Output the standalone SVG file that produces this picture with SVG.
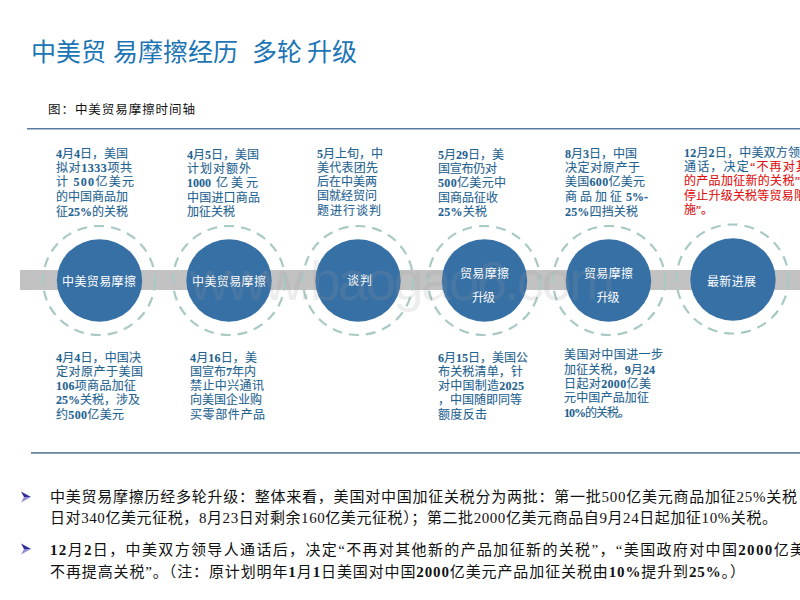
<svg xmlns="http://www.w3.org/2000/svg" width="800" height="600" viewBox="0 0 800 600">
<style>
text{font-family:"Liberation Serif","Noto Sans CJK SC",serif}
.s{font-family:"Noto Sans CJK SC",sans-serif}
.t text{font-size:12px;fill:#1f6391;stroke:#1f6391;stroke-width:.1}
.t text .r,.t text.r{fill:#e01010;stroke:#e01010}
.c{font-size:12px;fill:#fff;text-anchor:middle;font-family:"Noto Sans CJK SC",sans-serif}
.b{font-size:15px;fill:#111}
.n{font-weight:bold}
.ring{fill:none;stroke:#a9c9c5;stroke-width:2.200;stroke-dasharray:10 7}
.disc{fill:#3670a5}
.wm{font-family:"Liberation Sans",sans-serif;font-size:55px;fill:#999;fill-opacity:.18}
.up{fill:#2b2b9b}
.lo{fill:#8f8fd0}
</style>
<rect width="800" height="600" fill="#fff"/>
<text class="s" y="61" font-size="25" fill="#1c75b5"><tspan x="31">中美贸</tspan><tspan x="113">易摩擦经历</tspan><tspan x="252">多轮</tspan><tspan x="307">升级</tspan></text>
<text class="s" x="48" y="114" font-size="12.500" fill="#111" textLength="147">图：中美贸易摩擦时间轴</text>
<rect x="27" y="128" width="773" height="1.500" fill="#5d7d9f"/>
<rect x="31" y="452" width="769" height="1.800" fill="#6c86a3"/>
<g id="connectors"><rect x="20" y="270" width="780" height="20" fill="#c2c2c2"/></g>
<g id="node1"><ellipse class="ring" cx="99" cy="280.500" rx="56" ry="54.500"/><ellipse class="disc" cx="99.500" cy="280.500" rx="42.700" ry="41.200"/><text class="c" x="99" y="285.500" textLength="74">中美贸易摩擦</text>
<g class="t"><text x="56" y="158" textLength="72"><tspan class="n">4</tspan>月<tspan class="n">4</tspan>日，美国</text><text x="56" y="172" textLength="76">拟对<tspan class="n">1333</tspan>项共</text><text x="56" y="186" textLength="78">计 <tspan class="n">500</tspan>亿美元</text><text x="56" y="201" textLength="72">的中国商品加</text><text x="56" y="215.500" textLength="72">征<tspan class="n">25%</tspan>的关税</text></g></g>
<g id="node2"><ellipse class="ring" cx="229" cy="280.500" rx="56" ry="54.500"/><ellipse class="disc" cx="229" cy="280.500" rx="42.700" ry="41.200"/><text class="c" x="229" y="285.500" textLength="74">中美贸易摩擦</text>
<g class="t"><text x="187" y="159" textLength="72"><tspan class="n">4</tspan>月<tspan class="n">5</tspan>日，美国</text><text x="187" y="173" textLength="64">计划对额外</text><text x="187" y="187"><tspan class="n">1000</tspan><tspan x="216">亿</tspan><tspan x="231">美</tspan><tspan x="246">元</tspan></text><text x="187" y="202" textLength="73">中国进口商品</text><text x="187" y="215.500" textLength="48">加征关税</text></g></g>
<g id="node3"><ellipse class="ring" cx="358" cy="280.500" rx="55" ry="54.500"/><ellipse class="disc" cx="358" cy="280.500" rx="42.700" ry="41.200"/><text class="c" x="359.500" y="284.500" textLength="25">谈判</text>
<g class="t"><text x="317" y="158" textLength="66"><tspan class="n">5</tspan>月上旬，中</text><text x="317" y="172" textLength="61">美代表团先</text><text x="317" y="186" textLength="60">后在中美两</text><text x="317" y="200" textLength="60">国就经贸问</text><text x="317" y="214.500" textLength="64">题进行谈判</text></g></g>
<g id="node4"><ellipse class="ring" cx="484" cy="280.500" rx="56" ry="54.500"/><ellipse class="disc" cx="484.500" cy="280.500" rx="42.700" ry="41.200"/><text class="c" x="484.500" y="277.500" textLength="49">贸易摩擦</text><text class="c" x="483.500" y="301.500" textLength="23">升级</text>
<g class="t"><text x="438" y="159" textLength="66"><tspan class="n">5</tspan>月<tspan class="n">29</tspan>日，美</text><text x="438" y="173" textLength="59">国宣布仍对</text><text x="438" y="187" textLength="68"><tspan class="n">500</tspan>亿美元中</text><text x="438" y="202" textLength="60">国商品征收</text><text x="438" y="216" textLength="49"><tspan class="n">25%</tspan>关税</text></g></g>
<g id="node5"><ellipse class="ring" cx="609" cy="280.500" rx="56" ry="54.500"/><ellipse class="disc" cx="608.500" cy="280.500" rx="42.700" ry="41.200"/><text class="c" x="608.500" y="277.500" textLength="49">贸易摩擦</text><text class="c" x="608" y="301.500" textLength="23">升级</text>
<g class="t"><text x="565" y="158" textLength="72"><tspan class="n">8</tspan>月<tspan class="n">3</tspan>日，中国</text><text x="565" y="172" textLength="75">决定对原产于</text><text x="565" y="186" textLength="80">美国<tspan class="n">600</tspan>亿美元</text><text x="565" y="201">商<tspan x="580">品</tspan><tspan x="595">加</tspan><tspan x="610">征</tspan><tspan class="n" x="626">5%-</tspan></text><text x="565" y="215.500" textLength="73"><tspan class="n">25%</tspan>四挡关税</text></g></g>
<g id="node6"><ellipse class="ring" cx="732.500" cy="279" rx="56" ry="54.500"/><ellipse class="disc" cx="733" cy="279.500" rx="42.700" ry="41.200"/><text class="c" x="731.500" y="285.500" textLength="49">最新进展</text>
<g class="t"><text x="684" y="157" textLength="116"><tspan class="n">12</tspan>月<tspan class="n">2</tspan>日，中美双方领</text><text x="684" y="171" textLength="124">通话，决定<tspan class="r">“不再对其</tspan></text><text class="r" x="684" y="185" textLength="116">的产品加征新的关税”</text><text class="r" x="684" y="200" textLength="122">停止升级关税等贸易限</text><text class="r" x="684" y="214" textLength="29">施”。</text></g></g>
<g class="t" id="below1"><text x="56" y="362" textLength="85"><tspan class="n">4</tspan>月<tspan class="n">4</tspan>日，中国决</text><text x="56" y="375.500" textLength="87">定对原产于美国</text><text x="56" y="390" textLength="80"><tspan class="n">106</tspan>项商品加征</text><text x="56" y="404" textLength="84"><tspan class="n">25%</tspan>关税，涉及</text><text x="56" y="418.500" textLength="68">约<tspan class="n">500</tspan>亿美元</text></g>
<g class="t" id="below2"><text x="190" y="362" textLength="67"><tspan class="n">4</tspan>月<tspan class="n">16</tspan>日，美</text><text x="190" y="375.500" textLength="66">国宣布<tspan class="n">7</tspan>年内</text><text x="190" y="390" textLength="74">禁止中兴通讯</text><text x="190" y="404" textLength="72">向美国企业购</text><text x="190" y="418.500" textLength="75">买零部件产品</text></g>
<g class="t" id="below4"><text x="438" y="362" textLength="90"><tspan class="n">6</tspan>月<tspan class="n">15</tspan>日，美国公</text><text x="438" y="375.500" textLength="85">布关税清单，针</text><text x="438" y="390" textLength="86">对中国制造<tspan class="n">2025</tspan></text><text x="438" y="404" textLength="84">，中国随即同等</text><text x="438" y="418.500" textLength="49">额度反击</text></g>
<g class="t" id="below5"><text x="564" y="359" textLength="99">美国对中国进一步</text><text x="564" y="373.500" textLength="91">加征关税，<tspan class="n">9</tspan>月<tspan class="n">24</tspan></text><text x="564" y="388" textLength="87">日起对<tspan class="n">2000</tspan>亿美</text><text x="564" y="402" textLength="85">元中国产品加征</text><text x="564" y="417" textLength="66"><tspan class="n">10%</tspan>的关税。</text></g>
<text class="wm" x="190" y="300" textLength="425">www.baogao6.com</text>
<g id="bullets"><polygon class="up" points="21,491.500 31,497 24,497"/><polygon class="lo" points="21,502.500 31,497 24,497"/><polygon class="up" points="21,543.500 31,549 24,549"/><polygon class="lo" points="21,554.500 31,549 24,549"/></g>
<g class="b">
<text x="50" y="502" textLength="747">中美贸易摩擦历经多轮升级：整体来看，美国对中国加征关税分为两批：第一批500亿美元商品加征25%关税</text>
<text x="50" y="523" textLength="727">日对340亿美元征税，8月23日对剩余160亿美元征税）；第二批2000亿美元商品自9月24日起加征10%关税。</text>
<text x="50" y="554.500" textLength="755"><tspan class="n">12</tspan>月<tspan class="n">2</tspan>日，中美双方领导人通话后，决定“不再对其他新的产品加征新的关税”，“美国政府对中国<tspan class="n">2000</tspan>亿美</text>
<text x="50" y="577" textLength="695">不再提高关税”。（注：原计划明年<tspan class="n">1</tspan>月<tspan class="n">1</tspan>日美国对中国<tspan class="n">2000</tspan>亿美元产品加征关税由<tspan class="n">10%</tspan>提升到<tspan class="n">25%</tspan>。）</text>
</g>
</svg>
